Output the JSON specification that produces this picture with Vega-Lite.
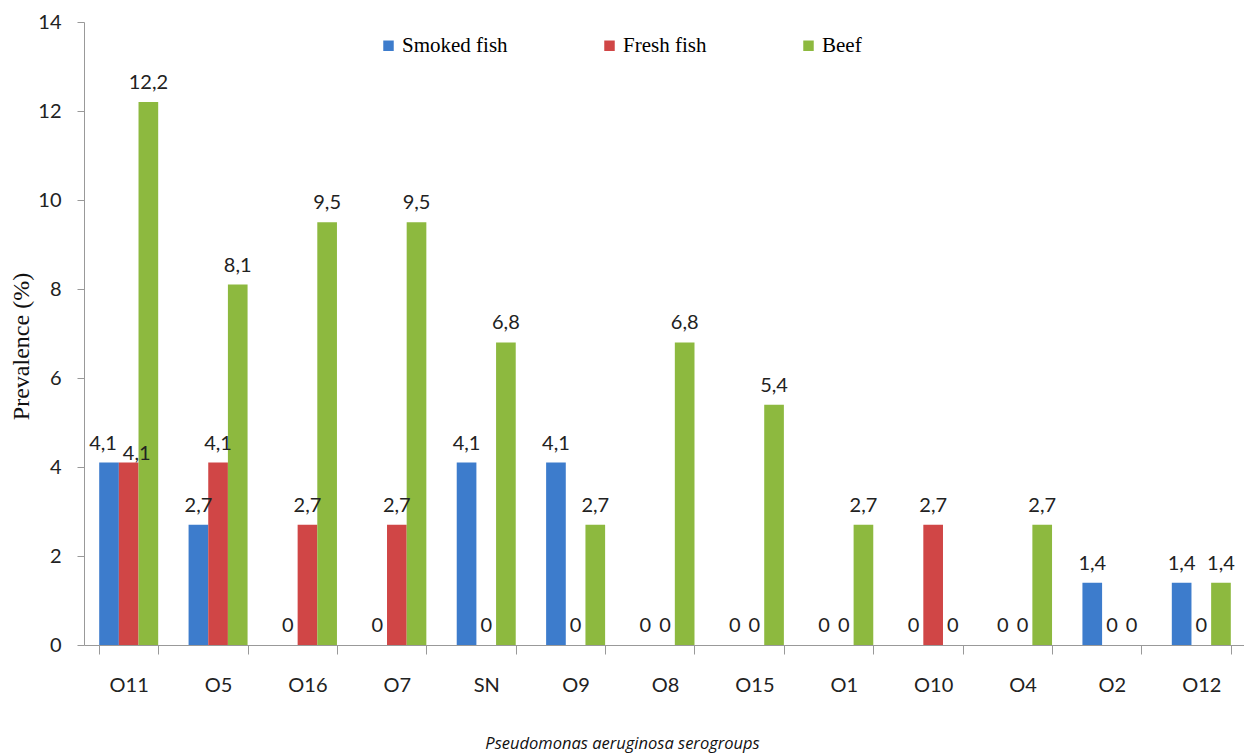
{
  "$schema": "https://vega.github.io/schema/vega-lite/v6.json",
  "autosize": {"type": "none"},
  "padding": {"left": 84, "top": 22, "right": 0, "bottom": 110},
  "width": 1162,
  "height": 623,
  "config": {
    "locale": {"number": {"decimal": ",", "thousands": ".", "grouping": [3], "currency": ["", " €"]}},
    "view": {"stroke": null},
    "legend": {"labelFont": "Liberation Serif", "labelFontSize": 21, "labelColor": "#000"}
  },
  "data": {
    "values": [
      {"serogroup": "O11", "source": "Smoked fish", "prevalence": 4.1},
      {"serogroup": "O11", "source": "Fresh fish", "prevalence": 4.1},
      {"serogroup": "O11", "source": "Beef", "prevalence": 12.2},
      {"serogroup": "O5", "source": "Smoked fish", "prevalence": 2.7},
      {"serogroup": "O5", "source": "Fresh fish", "prevalence": 4.1},
      {"serogroup": "O5", "source": "Beef", "prevalence": 8.1},
      {"serogroup": "O16", "source": "Smoked fish", "prevalence": 0},
      {"serogroup": "O16", "source": "Fresh fish", "prevalence": 2.7},
      {"serogroup": "O16", "source": "Beef", "prevalence": 9.5},
      {"serogroup": "O7", "source": "Smoked fish", "prevalence": 0},
      {"serogroup": "O7", "source": "Fresh fish", "prevalence": 2.7},
      {"serogroup": "O7", "source": "Beef", "prevalence": 9.5},
      {"serogroup": "SN", "source": "Smoked fish", "prevalence": 4.1},
      {"serogroup": "SN", "source": "Fresh fish", "prevalence": 0},
      {"serogroup": "SN", "source": "Beef", "prevalence": 6.8},
      {"serogroup": "O9", "source": "Smoked fish", "prevalence": 4.1},
      {"serogroup": "O9", "source": "Fresh fish", "prevalence": 0},
      {"serogroup": "O9", "source": "Beef", "prevalence": 2.7},
      {"serogroup": "O8", "source": "Smoked fish", "prevalence": 0},
      {"serogroup": "O8", "source": "Fresh fish", "prevalence": 0},
      {"serogroup": "O8", "source": "Beef", "prevalence": 6.8},
      {"serogroup": "O15", "source": "Smoked fish", "prevalence": 0},
      {"serogroup": "O15", "source": "Fresh fish", "prevalence": 0},
      {"serogroup": "O15", "source": "Beef", "prevalence": 5.4},
      {"serogroup": "O1", "source": "Smoked fish", "prevalence": 0},
      {"serogroup": "O1", "source": "Fresh fish", "prevalence": 0},
      {"serogroup": "O1", "source": "Beef", "prevalence": 2.7},
      {"serogroup": "O10", "source": "Smoked fish", "prevalence": 0},
      {"serogroup": "O10", "source": "Fresh fish", "prevalence": 2.7},
      {"serogroup": "O10", "source": "Beef", "prevalence": 0},
      {"serogroup": "O4", "source": "Smoked fish", "prevalence": 0},
      {"serogroup": "O4", "source": "Fresh fish", "prevalence": 0},
      {"serogroup": "O4", "source": "Beef", "prevalence": 2.7},
      {"serogroup": "O2", "source": "Smoked fish", "prevalence": 1.4},
      {"serogroup": "O2", "source": "Fresh fish", "prevalence": 0},
      {"serogroup": "O2", "source": "Beef", "prevalence": 0},
      {"serogroup": "O12", "source": "Smoked fish", "prevalence": 1.4},
      {"serogroup": "O12", "source": "Fresh fish", "prevalence": 0},
      {"serogroup": "O12", "source": "Beef", "prevalence": 1.4}
    ]
  },
  "encoding": {
    "x": {
      "field": "serogroup",
      "type": "nominal",
      "sort": null,
      "scale": {"paddingInner": 0.34, "paddingOuter": 0.17},
      "axis": {
        "title": "Pseudomonas aeruginosa serogroups",
        "titleFont": "Open Sans",
        "titleFontSize": 16.5,
        "titleFontWeight": "normal",
        "titleFontStyle": "italic",
        "titleColor": "#111",
        "titlePadding": 40,
        "titleX": 538,
        "labelAngle": 0,
        "labelFont": "Lato",
        "labelFontSize": 20,
        "labelColor": "#222",
        "labelPadding": 21,
        "tickBand": "extent",
        "tickSize": 9,
        "tickColor": "#999",
        "domainColor": "#999"
      }
    },
    "xOffset": {"field": "source", "type": "nominal", "sort": ["Smoked fish", "Fresh fish", "Beef"]},
    "y": {
      "field": "prevalence",
      "type": "quantitative",
      "scale": {"domain": [0, 14]},
      "axis": {
        "title": "Prevalence  (%)",
        "titleFont": "Liberation Serif",
        "titleFontSize": 24,
        "titleFontWeight": "normal",
        "titleColor": "#111",
        "titlePadding": 4,
        "titleY": 324,
        "values": [0, 2, 4, 6, 8, 10, 12, 14],
        "labelFont": "Lato",
        "labelFontSize": 20,
        "labelColor": "#222",
        "labelPadding": 16,
        "tickSize": 7,
        "tickColor": "#999",
        "domainColor": "#999",
        "grid": false
      }
    }
  },
  "layer": [
    {
      "mark": {"type": "bar"},
      "encoding": {
        "color": {
          "field": "source",
          "type": "nominal",
          "sort": ["Smoked fish", "Fresh fish", "Beef"],
          "scale": {"domain": ["Smoked fish", "Fresh fish", "Beef"], "range": ["#3d7ccc", "#d04646", "#8db93f"]},
          "legend": {
            "title": null,
            "orient": "none",
            "direction": "horizontal",
            "legendX": 294,
            "legendY": 13,
            "symbolType": "square",
            "symbolSize": 110,
            "symbolStrokeWidth": 0,
            "labelFont": "Liberation Serif",
            "labelFontSize": 21,
            "labelColor": "#000",
            "labelOffset": 3,
            "columnPadding": 91
          }
        }
      }
    },
    {
      "transform": [{"filter": "datum.serogroup !== 'O11' || datum.source === 'Beef'"}],
      "mark": {"type": "text", "baseline": "bottom", "dy": -9, "fontSize": 20, "font": "Lato", "color": "#222"},
      "encoding": {
        "text": {"field": "prevalence", "type": "quantitative", "format": ".1~f"}
      }
    },
    {
      "transform": [{"filter": "datum.serogroup === 'O11' && datum.source === 'Smoked fish'"}],
      "mark": {"type": "text", "baseline": "bottom", "dy": -9, "dx": -6, "fontSize": 20, "font": "Lato", "color": "#222"},
      "encoding": {
        "text": {"field": "prevalence", "type": "quantitative", "format": ".1~f"}
      }
    },
    {
      "transform": [{"filter": "datum.serogroup === 'O11' && datum.source === 'Fresh fish'"}],
      "mark": {"type": "text", "baseline": "bottom", "dy": 1, "dx": 8, "fontSize": 20, "font": "Lato", "color": "#222"},
      "encoding": {
        "text": {"field": "prevalence", "type": "quantitative", "format": ".1~f"}
      }
    }
  ]
}
